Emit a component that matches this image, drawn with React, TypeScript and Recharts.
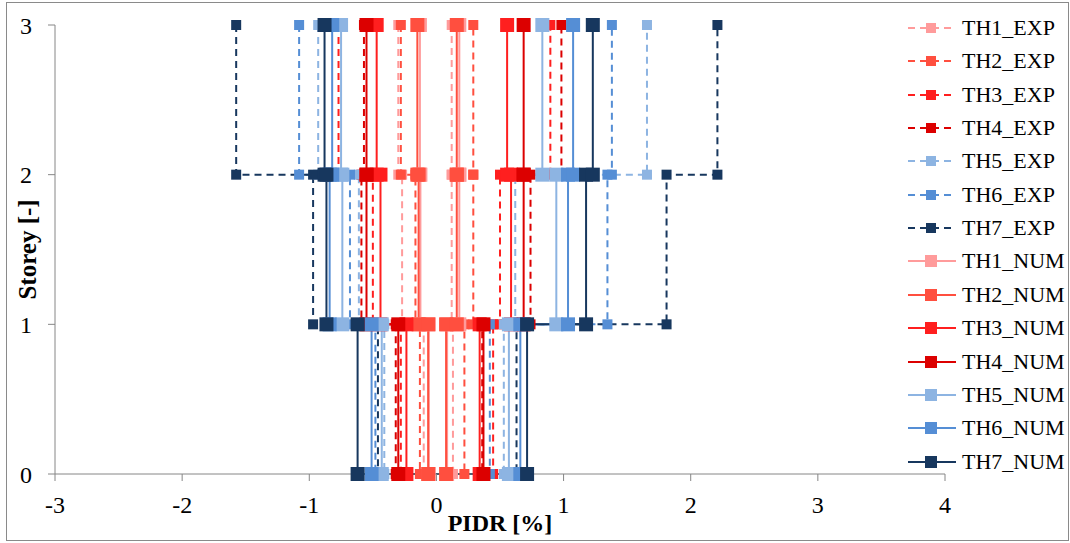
import { LineChart, Line, XAxis, YAxis, Label } from "recharts";

// storey levels and axis ticks
const storeys = [0, 1, 2, 3];
const xTicks = [-3, -2, -1, 0, 1, 2, 3, 4];

const expNames = ["TH1_EXP", "TH2_EXP", "TH3_EXP", "TH4_EXP", "TH5_EXP", "TH6_EXP", "TH7_EXP"];
const numNames = ["TH1_NUM", "TH2_NUM", "TH3_NUM", "TH4_NUM", "TH5_NUM", "TH6_NUM", "TH7_NUM"];

// peak drift per storey [1st, 2nd, 3rd], negative and positive side
const expNeg = [
  [-0.1, -0.27, -0.3],
  [-0.13, -0.165, -0.28],
  [-0.28, -0.5, -0.77],
  [-0.32, -0.59, -0.57],
  [-0.41, -0.61, -0.93],
  [-0.48, -0.68, -1.08],
  [-0.46, -0.97, -1.575],
];
const expPos = [
  [0.13, 0.12, 0.12],
  [0.22, 0.29, 0.29],
  [0.446, 0.5, 0.896],
  [0.36, 0.74, 0.983],
  [0.53, 0.62, 1.656],
  [0.42, 1.345, 1.38],
  [0.63, 1.81, 2.21],
];
const numNeg = [
  [-0.06, -0.126, -0.13],
  [-0.065, -0.14, -0.15],
  [-0.236, -0.44, -0.47],
  [-0.3, -0.55, -0.55],
  [-0.43, -0.74, -0.75],
  [-0.51, -0.84, -0.82],
  [-0.62, -0.865, -0.88],
];
const numPos = [
  [0.084, 0.18, 0.18],
  [0.076, 0.16, 0.16],
  [0.34, 0.587, 0.556],
  [0.37, 0.686, 0.686],
  [0.57, 0.943, 0.833],
  [0.66, 1.035, 1.075],
  [0.713, 1.177, 1.23],
];

const colors = ["#FF9B9B", "#FF4F3F", "#FF1F1F", "#DC0000", "#8DB4E2", "#558ED5", "#17375E"];
const FONT = "'Liberation Serif', 'Times New Roman', serif";
const AXIS = "#868686";

// step profile: down the negative side, across the base, up the positive side
function profile(neg: number[], pos: number[]) {
  const pts: { x: number; y: number }[] = [];
  for (let i = 3; i >= 1; i--) {
    pts.push({ x: neg[i - 1], y: storeys[i] });
    pts.push({ x: neg[i - 1], y: storeys[i - 1] });
  }
  for (let i = 1; i <= 3; i++) {
    pts.push({ x: pos[i - 1], y: storeys[i - 1] });
    pts.push({ x: pos[i - 1], y: storeys[i] });
  }
  return pts;
}

const squareDot = (size: number, color: string) => (props: any) => {
  const { cx, cy, index } = props;
  return (
    <rect key={`d${index}`} x={cx - size / 2} y={cy - size / 2} width={size} height={size} fill={color} />
  );
};

const series = [
  ...expNames.map((name, i) => ({ name, color: colors[i], dashed: true, data: profile(expNeg[i], expPos[i]) })),
  ...numNames.map((name, i) => ({ name, color: colors[i], dashed: false, data: profile(numNeg[i], numPos[i]) })),
];

function YTitle(props: any) {
  const { viewBox } = props;
  const x = viewBox.x + 27;
  const y = viewBox.y + viewBox.height / 2;
  return (
    <text x={x} y={y} transform={`rotate(-90 ${x} ${y})`} textAnchor="middle" dominantBaseline="central"
      style={{ fontFamily: FONT, fontSize: 25, fontWeight: "bold" }} fill="#000">
      Storey [-]
    </text>
  );
}

export default function App() {
  return (
    <div style={{ position: "absolute", left: 0, top: 0, width: 1070, height: 543, background: "#fff" }}>
      <div style={{ position: "absolute", left: 6, top: 2, width: 1063, height: 539, border: "1px solid #8a8a8a", boxSizing: "border-box" }} />
      <LineChart width={1070} height={543} margin={{ top: 25, right: 125, bottom: 0, left: 0 }}>
        <XAxis
          dataKey="x"
          type="number"
          domain={[-3, 4]}
          ticks={xTicks}
          height={69}
          tickSize={7}
          tickMargin={15}
          axisLine={{ stroke: AXIS }}
          tickLine={{ stroke: AXIS }}
          tick={{ fill: "#000", fontSize: 24, fontFamily: FONT }}
        >
          <Label value="PIDR [%]" position="insideBottom" offset={12}
            style={{ fontFamily: FONT, fontSize: 24, fontWeight: "bold", fill: "#000" }} />
        </XAxis>
        <YAxis
          dataKey="y"
          type="number"
          domain={[0, 3]}
          ticks={storeys}
          width={55}
          tickSize={7}
          tickMargin={16}
          axisLine={{ stroke: AXIS }}
          tickLine={{ stroke: AXIS }}
          tick={{ fill: "#000", fontSize: 24, fontFamily: FONT }}
        >
          <Label content={YTitle} />
        </YAxis>
        {series.map((s) => (
          <Line
            key={s.name}
            name={s.name}
            data={s.data}
            dataKey="y"
            type="linear"
            stroke={s.color}
            strokeWidth={2}
            strokeDasharray={s.dashed ? "7 5" : undefined}
            dot={squareDot(s.dashed ? 10 : 14, s.color)}
            activeDot={false}
            isAnimationActive={false}
          />
        ))}
      </LineChart>
      {series.map((s, i) => {
        const cy = 28 + i * 33.35;
        const size = s.dashed ? 10 : 12;
        return (
          <div key={s.name} style={{ position: "absolute", left: 908, top: cy - 14, height: 28, display: "flex", alignItems: "center" }}>
            <svg width={50} height={28} style={{ display: "block" }}>
              <line x1={0} y1={14} x2={48} y2={14} stroke={s.color} strokeWidth={2} strokeDasharray={s.dashed ? "7 5" : undefined} />
              <rect x={23 - size / 2} y={14 - size / 2} width={size} height={size} fill={s.color} />
            </svg>
            <span style={{ marginLeft: 4, fontFamily: FONT, fontSize: 22, color: "#000", whiteSpace: "nowrap", lineHeight: "28px" }}>
              {s.name}
            </span>
          </div>
        );
      })}
    </div>
  );
}
